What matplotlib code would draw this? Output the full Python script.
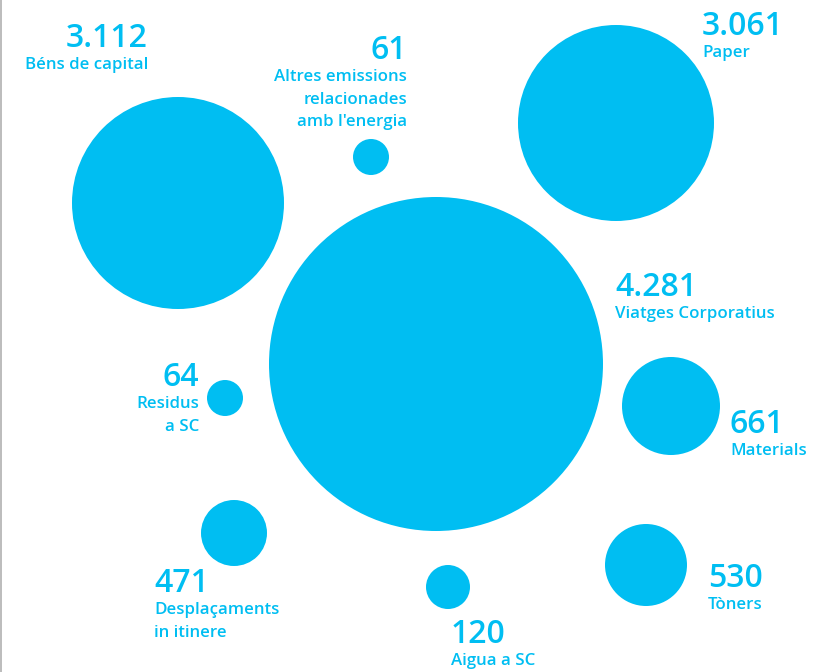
from matplotlib import pyplot as plt
from matplotlib.patches import Circle

# data
names = ['Béns de capital', 'Altres emissions\nrelacionades\namb l\'energia', 'Paper',
         'Viatges Corporatius', 'Residus\na SC', 'Materials',
         'Desplaçaments\nin itinere', 'Aigua a SC', 'Tòners']
values = [3112, 61, 3061, 4281, 64, 661, 471, 120, 530]

# layout (pixel coords, y down)
cx = [178, 371, 616, 436, 225, 671, 234, 448, 646]
cy = [203, 157, 123, 364, 398, 406, 533, 587, 565]
radius = [106, 18, 98, 167, 18, 49, 33, 22, 41]
tx = [148, 407, 702, 615, 199, 730, 154, 451, 708]
ty = [47, 59, 35, 296, 386, 433, 592, 643, 587]
align = ['right', 'right', 'left', 'left', 'right', 'left', 'left', 'left', 'left']

blue = '#00BEF2'
font = ['Open Sans', 'DejaVu Sans']


def fmt(v):
    return f'{v:,}'.replace(',', '.')


fig = plt.figure(figsize=(8.29, 6.72), dpi=100)
ax = fig.add_axes([0, 0, 1, 1])
ax.set_xlim(0, 829)
ax.set_ylim(672, 0)
ax.axis('off')

for i in range(len(values)):
    ax.add_patch(Circle((cx[i], cy[i]), radius[i], color=blue, lw=0))
    ax.text(tx[i], ty[i], fmt(values[i]), ha=align[i], va='baseline',
            color=blue, fontsize=23, fontweight='semibold', family=font)
    for j, line in enumerate(names[i].split('\n')):
        ax.text(tx[i], ty[i] + 22 + j * 22.7, line, ha=align[i], va='baseline',
                color=blue, fontsize=12.2, fontweight='semibold', family=font)

# thin grey rule on the left edge
ax.plot([1.5, 1.5], [0, 672], color='#b0b0b0', lw=1.2)

fig.savefig('out.png', dpi=100)
